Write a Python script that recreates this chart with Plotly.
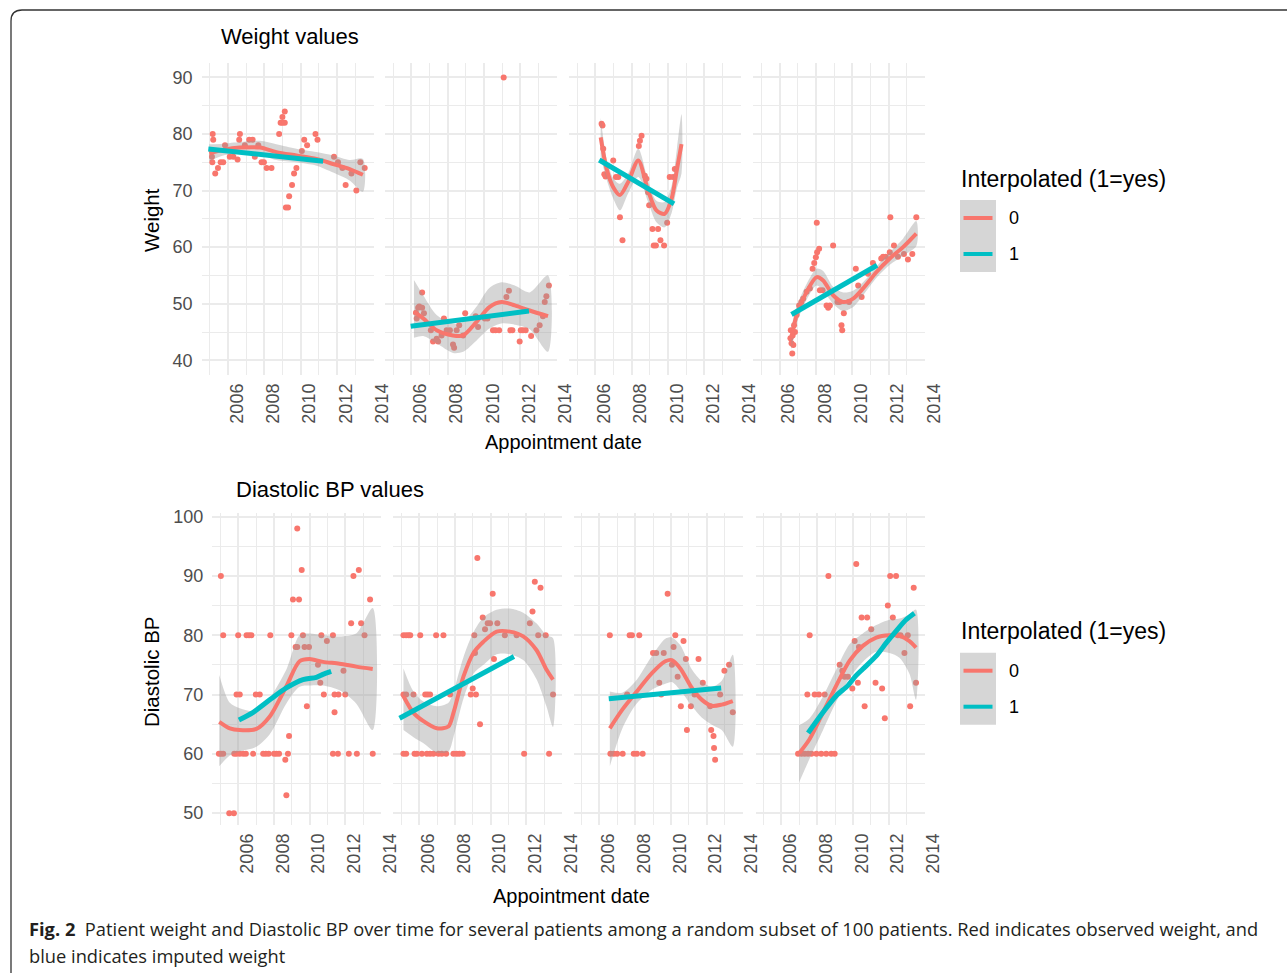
import plotly.graph_objects as go

W, H = 1287, 973
RED = '#F8766D'
TEAL = '#00BFC4'
BAND = 'rgba(153,153,153,0.4)'
GRID = '#EBEBEB'
FONT = 'Liberation Sans'

# ---------------- data ----------------
year_ticks = [2006, 2008, 2010, 2012, 2014]
year_minor = [2005, 2007, 2009, 2011, 2013]
wt_ticks = [40, 50, 60, 70, 80, 90]
bp_ticks = [50, 60, 70, 80, 90, 100]

# Weight panels: observed points (year, weight)
wt1_pts = [(2005.16, 80), (2005.19, 79), (2005.12, 76), (2005.14, 75), (2005.30, 73), (2005.45, 74),
           (2005.60, 75), (2005.74, 75), (2005.84, 78), (2006.10, 76), (2006.30, 76), (2006.53, 75.5),
           (2006.62, 79), (2006.66, 80), (2006.93, 78), (2007.17, 79), (2007.36, 79), (2007.48, 76),
           (2007.67, 78), (2007.85, 75), (2007.98, 75), (2008.13, 74), (2008.40, 74), (2008.82, 80),
           (2008.90, 82), (2009.00, 82), (2009.13, 82), (2009.00, 83), (2009.13, 84), (2009.19, 67),
           (2009.31, 67), (2009.37, 69), (2009.53, 71), (2009.64, 73), (2009.77, 74), (2010.07, 77),
           (2010.20, 79), (2010.36, 78), (2010.82, 80), (2010.93, 79), (2011.84, 76), (2012.06, 75),
           (2012.30, 74), (2012.48, 71), (2012.80, 73), (2013.07, 70), (2013.29, 75), (2013.53, 74)]
wt2_pts = [(2011.09, 90), (2006.60, 52), (2006.26, 48.4), (2006.38, 49.3), (2006.44, 49.5), (2006.60, 49.3),
           (2006.70, 48.3), (2006.30, 47.4), (2007.08, 45.3), (2007.20, 43.3), (2007.48, 43.3), (2007.40, 43.8),
           (2007.67, 44.4), (2007.95, 45.3), (2008.13, 45.3), (2008.50, 45.3), (2007.80, 47.4), (2008.30, 42.8),
           (2008.36, 42.2), (2008.64, 46.2), (2008.86, 44.4), (2008.97, 48.3), (2009.55, 47.8), (2009.68, 45.9),
           (2010.05, 47.4), (2010.20, 47.4), (2010.50, 45.3), (2010.64, 45.3), (2010.84, 45.3), (2011.24, 51.2),
           (2011.38, 52.3), (2011.46, 45.3), (2011.57, 45.3), (2011.97, 43.3), (2012.03, 45.3), (2012.15, 45.3),
           (2012.30, 45.3), (2012.60, 44.3), (2012.89, 45.3), (2013.07, 46.2), (2013.25, 47.8), (2013.35, 50.3),
           (2013.44, 51.3), (2013.58, 53.2)]
wt3_pts = [(2006.35, 81.8), (2006.40, 81.5), (2006.44, 77.4), (2006.50, 72.9), (2006.57, 72.5), (2006.99, 75.3),
           (2007.14, 72.4), (2007.27, 72.4), (2007.36, 65.3), (2007.50, 61.2), (2008.40, 77.9), (2008.46, 78.8),
           (2008.55, 79.7), (2008.73, 72.6), (2008.82, 72.1), (2008.91, 69.7), (2008.97, 67.4), (2009.15, 63.2),
           (2009.46, 63.2), (2009.22, 60.3), (2009.34, 60.3), (2009.59, 61.2), (2009.79, 60.3), (2009.96, 64.3),
           (2010.10, 72.4), (2010.29, 72.4), (2010.38, 73.8)]
wt4_pts = [(2006.60, 43.9), (2006.66, 43.0), (2006.70, 41.2), (2006.76, 42.7), (2006.80, 46.2), (2006.85, 45.0),
           (2006.72, 44.4), (2006.62, 45.3), (2006.94, 48.0), (2007.08, 49.7), (2007.20, 50.3), (2007.30, 50.9),
           (2007.49, 52.1), (2007.67, 52.7), (2007.82, 56.2), (2007.91, 57.2), (2008.00, 58.2), (2008.07, 59.1),
           (2008.18, 59.7), (2008.05, 64.3), (2008.22, 52.4), (2008.37, 52.4), (2008.59, 49.7), (2008.68, 49.3),
           (2008.77, 49.7), (2008.95, 60.3), (2009.19, 50.3), (2009.30, 50.3), (2009.54, 48.3), (2009.41, 46.2),
           (2009.45, 45.3), (2009.83, 50.3), (2010.20, 56.2), (2010.33, 53.2), (2010.52, 51.2), (2010.87, 55.3),
           (2011.14, 57.2), (2011.60, 58.0), (2011.70, 58.3), (2011.85, 58.3), (2012.07, 59.1), (2012.10, 65.3),
           (2012.30, 60.3), (2012.52, 58.3), (2012.85, 58.8), (2013.07, 57.8), (2013.31, 58.8), (2013.53, 65.3)]

# Weight smooth fits (observed): year, fit, lower, upper
wt1_fit_x = [2004.97, 2005.74, 2006.66, 2007.76, 2008.67, 2009.77, 2010.87, 2011.79, 2012.70, 2013.43]
wt1_fit_y = [76.6, 77.2, 77.6, 77.6, 76.8, 76.2, 75.6, 74.7, 73.8, 72.8]
wt1_fit_lo = [75.2, 76.2, 76.6, 76.4, 75.4, 75.0, 74.4, 73.2, 71.8, 69.8]
wt1_fit_hi = [78.2, 78.3, 78.6, 78.8, 78.2, 77.4, 76.8, 76.2, 75.4, 75.6]
wt2_fit_x = [2006.15, 2006.66, 2007.40, 2008.30, 2008.86, 2009.60, 2010.30, 2010.97, 2011.70, 2012.52, 2013.53]
wt2_fit_y = [48.6, 47.4, 45.3, 44.4, 44.4, 46.8, 49.4, 50.3, 49.7, 48.8, 47.8]
wt2_fit_lo = [44.0, 44.3, 43.0, 41.3, 41.5, 43.5, 45.6, 46.5, 46.3, 45.5, 41.5]
wt2_fit_hi = [54.2, 51.5, 48.0, 46.5, 46.8, 49.5, 52.8, 53.8, 53.2, 52.0, 55.0]
wt3_fit_x = [2006.30, 2006.63, 2006.99, 2007.36, 2007.81, 2008.37, 2008.91, 2009.37, 2009.82, 2010.20, 2010.50, 2010.75]
wt3_fit_y = [79.4, 73.8, 70.6, 69.2, 71.5, 75.3, 70.0, 66.5, 65.9, 68.5, 73.8, 78.2]
wt3_fit_lo = [76.0, 71.9, 68.6, 66.5, 69.5, 72.4, 68.0, 64.4, 63.5, 66.0, 70.5, 73.0]
wt3_fit_hi = [82.9, 75.6, 72.2, 71.2, 73.0, 77.4, 71.8, 68.2, 68.0, 70.8, 77.5, 83.5]
wt4_fit_x = [2006.66, 2006.94, 2007.49, 2008.04, 2008.40, 2008.95, 2009.50, 2010.05, 2010.60, 2011.34, 2012.07, 2012.80, 2013.53]
wt4_fit_y = [43.9, 48.0, 52.1, 54.7, 54.1, 51.5, 50.3, 50.9, 52.7, 55.6, 58.0, 60.0, 62.4]
wt4_fit_lo = [41.8, 46.5, 50.7, 53.2, 52.4, 50.0, 48.7, 49.4, 51.5, 54.6, 56.9, 58.5, 60.2]
wt4_fit_hi = [46.0, 49.5, 53.5, 56.2, 55.8, 53.0, 52.0, 52.3, 53.8, 56.6, 59.1, 61.5, 64.6]

# Weight fits (interpolated)
wt1_int_x = [2004.92, 2011.24]
wt1_int_y = [77.35, 75.2]
wt2_int_x = [2005.97, 2012.48]
wt2_int_y = [46.0, 48.7]
wt3_int_x = [2006.22, 2010.34]
wt3_int_y = [75.4, 67.65]
wt4_int_x = [2006.66, 2011.37]
wt4_int_y = [48.1, 56.8]

# Diastolic BP panels: observed points (year, bp)
bp1_pts = [(2005.03, 90), (2005.16, 80), (2006.00, 80), (2006.47, 80), (2006.61, 80), (2006.74, 80), (2007.80, 80),
           (2008.98, 80), (2009.63, 80), (2010.66, 80), (2011.31, 80), (2013.08, 80), (2004.92, 60), (2005.03, 60),
           (2005.16, 60), (2005.78, 60), (2005.91, 60), (2006.09, 60), (2006.28, 60), (2006.43, 60), (2006.84, 60),
           (2007.40, 60), (2007.55, 60), (2007.71, 60), (2008.01, 60), (2008.14, 60), (2008.29, 60), (2008.79, 60),
           (2011.31, 60), (2011.59, 60), (2012.20, 60), (2012.65, 60), (2013.54, 60), (2005.91, 70), (2006.09, 70),
           (2006.99, 70), (2007.21, 70), (2010.80, 70), (2011.40, 70), (2011.62, 70), (2012.00, 70), (2005.50, 50),
           (2005.76, 50), (2008.64, 59), (2008.70, 53), (2008.85, 63), (2009.07, 86), (2009.41, 86), (2009.31, 98),
           (2009.56, 91), (2009.22, 78), (2009.31, 78), (2009.72, 78), (2009.97, 78), (2009.85, 68), (2010.47, 75),
           (2010.60, 72), (2010.97, 79), (2011.90, 74), (2011.40, 67), (2012.33, 82), (2012.46, 90), (2012.76, 91),
           (2012.89, 82), (2013.39, 86)]
bp2_pts = [(2005.12, 80), (2005.27, 80), (2005.40, 80), (2005.50, 80), (2006.06, 80), (2006.95, 80), (2007.36, 80),
           (2005.12, 70), (2005.27, 70), (2005.68, 70), (2006.34, 70), (2006.47, 70), (2006.61, 70), (2007.73, 70),
           (2005.12, 60), (2005.27, 60), (2005.74, 60), (2005.87, 60), (2006.15, 60), (2006.43, 60), (2006.61, 60),
           (2006.80, 60), (2007.08, 60), (2007.27, 60), (2007.51, 60), (2007.92, 60), (2008.10, 60), (2008.25, 60),
           (2008.44, 60), (2009.26, 93), (2009.41, 65), (2009.00, 71), (2008.89, 70), (2009.18, 70), (2009.13, 77),
           (2009.56, 83), (2009.69, 81), (2009.84, 82), (2009.97, 82), (2010.38, 82), (2009.09, 80), (2010.12, 87),
           (2010.19, 76), (2010.80, 80), (2011.46, 80), (2011.88, 60), (2012.20, 82), (2012.35, 84), (2012.48, 89),
           (2012.80, 88), (2012.67, 80), (2013.09, 80), (2013.28, 60), (2013.50, 70)]
bp3_pts = [(2006.58, 80), (2007.69, 80), (2007.82, 80), (2008.23, 80), (2006.61, 60), (2006.80, 60), (2006.99, 60),
           (2007.30, 60), (2007.92, 60), (2008.10, 60), (2008.42, 60), (2007.55, 70), (2009.82, 87), (2009.00, 77),
           (2009.18, 77), (2009.60, 77), (2010.25, 80), (2010.15, 78), (2010.71, 79), (2010.06, 75), (2010.38, 73),
           (2009.35, 72), (2009.46, 70), (2010.84, 76), (2011.55, 76), (2011.79, 72), (2010.56, 68), (2011.12, 68),
           (2010.90, 64), (2011.33, 70), (2012.20, 68), (2012.26, 64), (2012.39, 63), (2012.42, 61), (2012.48, 59),
           (2012.76, 70), (2013.00, 74), (2013.26, 75), (2013.47, 67)]
bp4_pts = [(2006.93, 60), (2007.12, 60), (2007.30, 60), (2007.49, 60), (2007.68, 60), (2007.96, 60), (2008.23, 60),
           (2008.51, 60), (2008.79, 60), (2008.98, 60), (2007.58, 80), (2007.45, 70), (2007.86, 70), (2008.10, 70),
           (2008.42, 70), (2008.63, 90), (2009.26, 75), (2009.41, 74), (2009.54, 73), (2009.72, 73), (2009.97, 71),
           (2010.19, 92), (2010.10, 79), (2010.28, 72), (2010.34, 78), (2010.49, 83), (2010.80, 83), (2010.66, 68),
           (2011.03, 81), (2011.27, 72), (2011.64, 71), (2011.79, 66), (2011.96, 85), (2012.09, 90), (2012.42, 90),
           (2012.24, 83), (2012.52, 80), (2012.67, 80), (2012.89, 77), (2013.08, 80), (2013.21, 68), (2013.41, 88),
           (2013.54, 72)]

# Diastolic BP smooth fits (observed)
bp1_fit_x = [2004.94, 2005.53, 2006.09, 2007.02, 2007.77, 2008.70, 2009.44, 2010.00, 2010.75, 2011.68, 2012.61, 2013.54]
bp1_fit_y = [65.4, 64.3, 64.0, 64.2, 66.3, 71.4, 75.6, 76.0, 75.5, 75.2, 74.7, 74.3]
bp1_fit_lo = [57.9, 59.7, 60.4, 61.2, 63.3, 68.5, 71.3, 71.5, 71.5, 70.7, 68.5, 64.0]
bp1_fit_hi = [73.3, 68.6, 67.7, 67.2, 69.4, 74.2, 80.0, 80.3, 80.0, 79.8, 80.3, 84.6]
bp2_fit_x = [2005.12, 2005.68, 2006.24, 2006.99, 2007.64, 2007.92, 2008.48, 2009.04, 2009.60, 2010.34, 2011.08, 2011.83, 2012.57, 2013.13, 2013.50]
bp2_fit_y = [69.7, 66.9, 65.5, 64.3, 64.6, 66.9, 73.0, 77.0, 78.9, 80.6, 80.6, 79.8, 77.5, 74.2, 72.5]
bp2_fit_lo = [64.0, 62.8, 61.8, 60.2, 60.4, 62.8, 69.3, 73.5, 75.0, 76.8, 76.8, 75.8, 72.6, 68.0, 64.5]
bp2_fit_hi = [74.4, 70.5, 68.8, 68.0, 68.6, 70.5, 76.3, 80.5, 83.0, 84.3, 84.5, 83.8, 82.0, 80.0, 79.5]
bp3_fit_x = [2006.58, 2007.27, 2008.01, 2008.94, 2009.69, 2010.06, 2010.53, 2011.18, 2011.74, 2012.30, 2012.85, 2013.47]
bp3_fit_y = [64.3, 67.4, 70.2, 73.6, 75.6, 75.8, 74.4, 71.1, 69.1, 68.1, 68.3, 68.9]
bp3_fit_lo = [57.9, 64.2, 68.2, 70.8, 71.8, 72.1, 70.7, 68.0, 66.1, 64.9, 64.0, 61.2]
bp3_fit_hi = [70.5, 70.3, 72.2, 76.5, 79.4, 79.6, 78.3, 74.2, 72.2, 71.3, 72.3, 76.7]
bp4_fit_x = [2006.99, 2007.58, 2008.33, 2009.07, 2009.82, 2010.56, 2011.31, 2012.05, 2012.61, 2013.17, 2013.54]
bp4_fit_y = [60.1, 62.5, 67.0, 71.5, 75.7, 78.2, 79.6, 80.0, 79.9, 79.0, 77.9]
bp4_fit_lo = [55.2, 59.2, 64.0, 68.8, 72.8, 75.5, 77.2, 77.0, 76.2, 73.5, 69.1]
bp4_fit_hi = [64.8, 66.0, 69.7, 74.2, 78.5, 80.3, 81.7, 82.6, 82.8, 83.5, 84.3]

# Diastolic BP fits (interpolated)
bp1_int_x = [2006.04, 2006.84, 2007.77, 2008.70, 2009.63, 2010.38, 2010.75, 2011.21]
bp1_int_y = [65.7, 67.0, 69.1, 71.1, 72.5, 72.9, 73.4, 73.9]
bp2_int_x = [2004.90, 2011.31]
bp2_int_y = [66.0, 76.4]
bp3_int_x = [2006.52, 2012.82]
bp3_int_y = [69.3, 71.1]
bp4_int_x = [2007.49, 2008.33, 2009.07, 2009.72, 2010.15, 2010.56, 2011.31, 2011.87, 2012.42, 2012.98, 2013.45]
bp4_int_y = [63.5, 67.0, 69.8, 71.5, 73.1, 74.3, 76.5, 78.7, 80.7, 82.6, 83.7]

panels = [
    (wt1_pts, wt1_fit_x, wt1_fit_y, wt1_fit_lo, wt1_fit_hi, wt1_int_x, wt1_int_y),
    (wt2_pts, wt2_fit_x, wt2_fit_y, wt2_fit_lo, wt2_fit_hi, wt2_int_x, wt2_int_y),
    (wt3_pts, wt3_fit_x, wt3_fit_y, wt3_fit_lo, wt3_fit_hi, wt3_int_x, wt3_int_y),
    (wt4_pts, wt4_fit_x, wt4_fit_y, wt4_fit_lo, wt4_fit_hi, wt4_int_x, wt4_int_y),
    (bp1_pts, bp1_fit_x, bp1_fit_y, bp1_fit_lo, bp1_fit_hi, bp1_int_x, bp1_int_y),
    (bp2_pts, bp2_fit_x, bp2_fit_y, bp2_fit_lo, bp2_fit_hi, bp2_int_x, bp2_int_y),
    (bp3_pts, bp3_fit_x, bp3_fit_y, bp3_fit_lo, bp3_fit_hi, bp3_int_x, bp3_int_y),
    (bp4_pts, bp4_fit_x, bp4_fit_y, bp4_fit_lo, bp4_fit_hi, bp4_int_x, bp4_int_y),
]

# ---------------- layout geometry (pixels) ----------------
def PX(x):
    return x / W

def PY(y):
    return 1 - y / H

top_lefts = [201.6, 384.9, 568.9, 753.2]
top_w = 172.0
bot_lefts = [212.3, 393.3, 573.6, 755.6]
bot_w = 169.0
top_y = (63.3, 375.0)
bot_y = (513.3, 825.0)
x_range = [2004.55, 2014.02]
wt_range = [37.4, 92.5]
bp_range = [48.0, 100.55]

fig = go.Figure()

for i, (pts, fx, fy, flo, fhi, ix, iy) in enumerate(panels):
    k = i + 1
    xa = 'x' if k == 1 else f'x{k}'
    ya = 'y' if k == 1 else f'y{k}'
    fig.add_trace(go.Scatter(x=[p[0] for p in pts], y=[p[1] for p in pts], mode='markers',
                             marker=dict(color=RED, size=6, line=dict(width=0)),
                             xaxis=xa, yaxis=ya, showlegend=False, hoverinfo='skip'))
    fig.add_trace(go.Scatter(x=fx + fx[::-1], y=fhi + flo[::-1], mode='lines', fill='toself',
                             fillcolor=BAND, line=dict(width=0, shape='spline', smoothing=0.8),
                             xaxis=xa, yaxis=ya, showlegend=False, hoverinfo='skip'))
    fig.add_trace(go.Scatter(x=fx, y=fy, mode='lines',
                             line=dict(color=RED, width=4, shape='spline', smoothing=0.8),
                             xaxis=xa, yaxis=ya, showlegend=False, hoverinfo='skip'))
    fig.add_trace(go.Scatter(x=ix, y=iy, mode='lines',
                             line=dict(color=TEAL, width=5, shape='spline', smoothing=0.8),
                             xaxis=xa, yaxis=ya, showlegend=False, hoverinfo='skip'))

tickfont = dict(family=FONT, size=18, color='#4D4D4D')
axes = {}
for i in range(8):
    k = i + 1
    top = i < 4
    if top:
        l = top_lefts[i]; w = top_w; y0, y1 = top_y
        yr = wt_range; yt = wt_ticks
        yminor = [45, 55, 65, 75, 85]
    else:
        l = bot_lefts[i - 4]; w = bot_w; y0, y1 = bot_y
        yr = bp_range; yt = bp_ticks
        yminor = [55, 65, 75, 85, 95]
    xname = 'xaxis' if k == 1 else f'xaxis{k}'
    yname = 'yaxis' if k == 1 else f'yaxis{k}'
    axes[xname] = dict(domain=[PX(l), PX(l + w)], range=x_range, anchor='y' if k == 1 else f'y{k}',
                       tickmode='array', tickvals=year_ticks, ticktext=[str(t) for t in year_ticks],
                       tickangle=-90, ticklabelshift=9, ticklabelstandoff=4, tickfont=tickfont,
                       showgrid=True, gridcolor=GRID, gridwidth=1.6, zeroline=False, showline=False,
                       ticks='', automargin=False,
                       minor=dict(tickvals=year_minor, showgrid=True, gridcolor=GRID, gridwidth=0.9),
                       fixedrange=True)
    axes[yname] = dict(domain=[PY(y1), PY(y0)], range=yr, anchor='x' if k == 1 else f'x{k}',
                       tickmode='array', tickvals=yt, ticktext=[str(t) for t in yt],
                       showticklabels=(i % 4 == 0), tickfont=tickfont, ticklabelstandoff=8,
                       showgrid=True, gridcolor=GRID, gridwidth=1.6, zeroline=False, showline=False,
                       ticks='', automargin=False,
                       minor=dict(tickvals=yminor, showgrid=True, gridcolor=GRID, gridwidth=0.9),
                       fixedrange=True)

fig.update_layout(**axes)

ann = []
def text(x, y, s, size=20, color='black', xanchor='center', yanchor='middle', angle=0, family=FONT):
    ann.append(dict(x=PX(x), y=PY(y), xref='paper', yref='paper', text=s, showarrow=False,
                    xanchor=xanchor, yanchor=yanchor, textangle=angle,
                    font=dict(family=family, size=size, color=color)))

# titles
text(219, 36, 'Weight values', size=22, xanchor='left')
text(234, 489, 'Diastolic BP values', size=22, xanchor='left')
text(151, 220, 'Weight', size=20.5, angle=-90)
text(151, 672, 'Diastolic BP', size=20.5, angle=-90)
text(563, 442, 'Appointment date', size=20)
text(571, 896, 'Appointment date', size=20)

# legends (drawn)
shapes = []
legend_title = 'Interpolated (1=yes)'
legend_labels = ['0', '1']
legend_colors = [RED, TEAL]
for (ty, by0) in [(179, 200), (631, 652.7)]:
    text(959, ty, legend_title, size=23, xanchor='left')
    shapes.append(dict(type='rect', xref='paper', yref='paper', x0=PX(960), x1=PX(996),
                       y0=PY(by0), y1=PY(by0 + 72), fillcolor=BAND, line=dict(width=0), layer='above'))
    for j, (lab, col) in enumerate(zip(legend_labels, legend_colors)):
        ly = by0 + 18 + 36 * j
        shapes.append(dict(type='line', xref='paper', yref='paper', x0=PX(963.5), x1=PX(992.5),
                           y0=PY(ly), y1=PY(ly), line=dict(color=col, width=4), layer='above'))
        text(1007, ly, lab, size=18, xanchor='left', color='black')

# caption
CAP = 'Open Sans'
text(27, 928, '<b>Fig. 2</b>  Patient weight and Diastolic BP over time for several patients among a random '
              'subset of 100 patients. Red indicates observed weight, and', size=18.3, xanchor='left',
     color='#231F20', family=CAP)
text(27, 955, 'blue indicates imputed weight', size=18.3, xanchor='left', color='#231F20', family=CAP)

# frame border (rounded top-left corner)
r = 11
bx, by = 11, 10
path = (f'M {PX(bx)},{PY(H + 5)} L {PX(bx)},{PY(by + r)} Q {PX(bx)},{PY(by)} {PX(bx + r)},{PY(by)} '
        f'L {PX(W + 5)},{PY(by)}')
shapes.append(dict(type='path', xref='paper', yref='paper', path=path,
                   line=dict(color='#333333', width=1.3)))

fig.update_layout(width=W, height=H, autosize=False,
                  margin=dict(l=0, r=0, t=0, b=0, pad=0, autoexpand=False),
                  paper_bgcolor='white', plot_bgcolor='rgba(0,0,0,0)',
                  annotations=ann, shapes=shapes, showlegend=False,
                  font=dict(family=FONT))

pin_to_corner = ("document.body.style.margin='0';document.body.style.overflow='hidden';"
                 "var d=document.getElementById('{plot_id}');"
                 "d.style.position='absolute';d.style.left='0px';d.style.top='0px';")
fig.write_html('out.html', post_script=pin_to_corner,
               config={'displayModeBar': False, 'responsive': False})
